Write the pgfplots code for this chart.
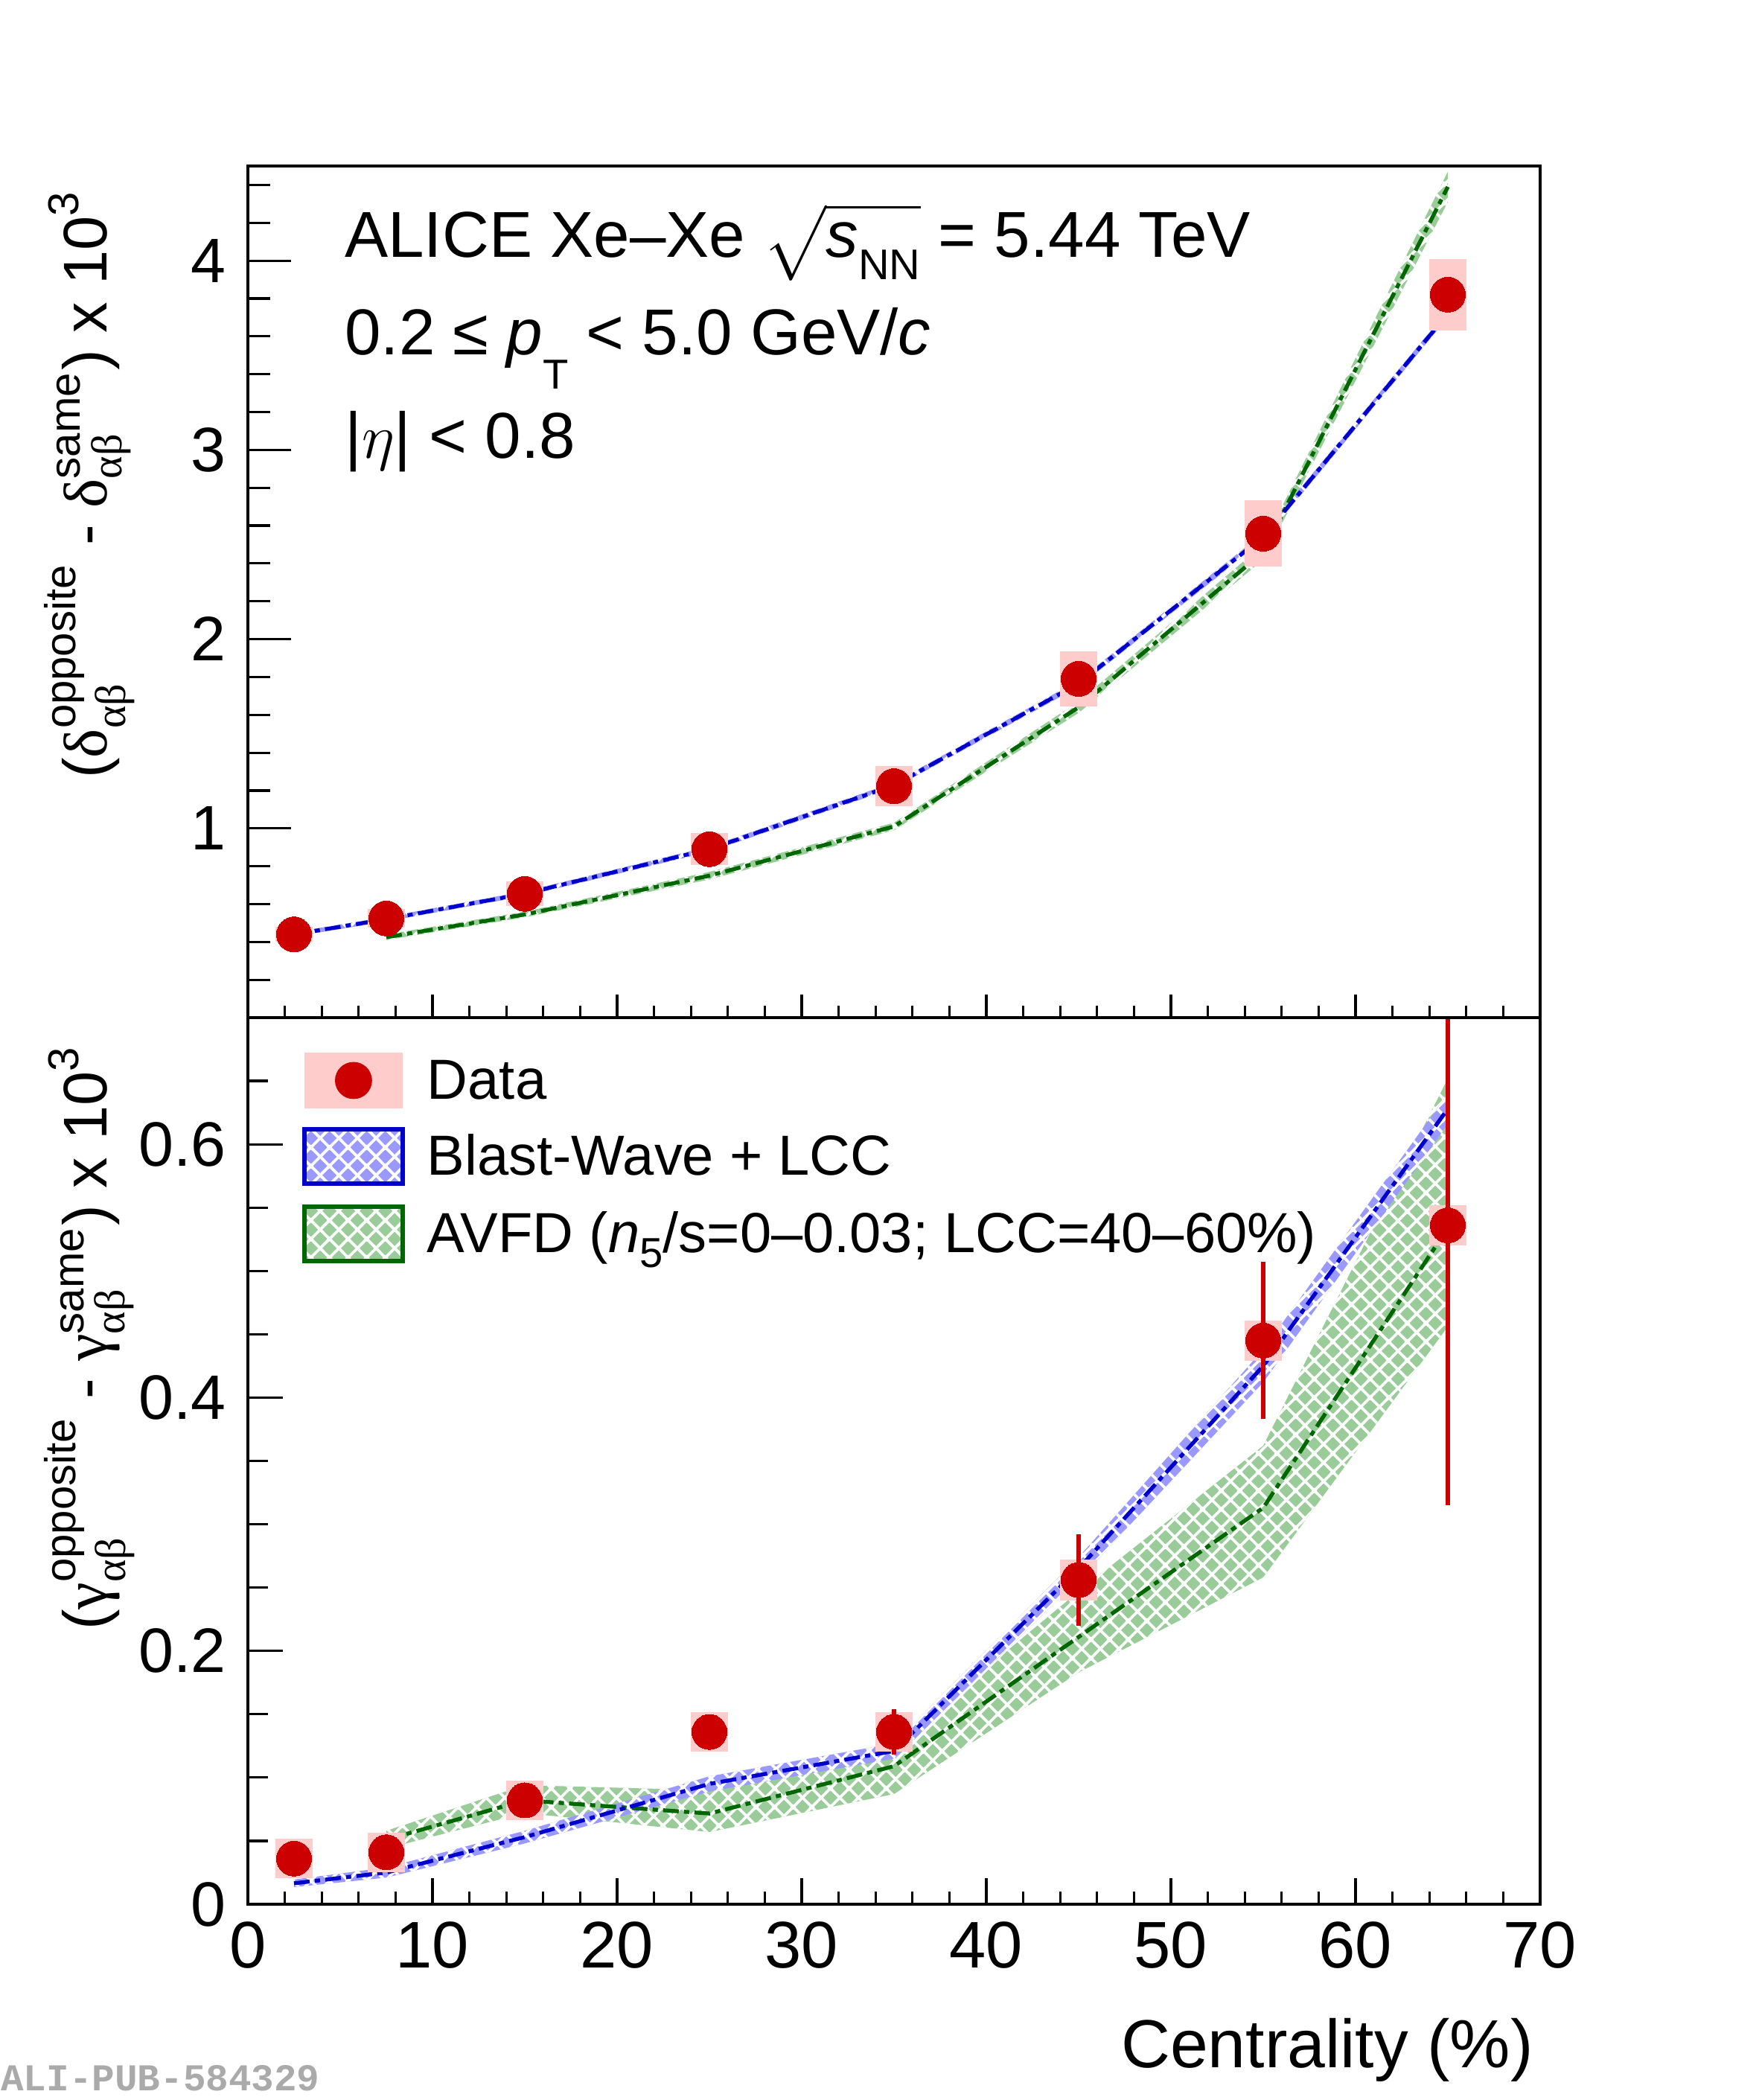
\documentclass[border=0pt]{standalone}
\usepackage{amsmath}
\usepackage{fontspec}
\setmainfont{Liberation Sans}
\newfontfamily\grk{Liberation Serif}
\newfontfamily\monob{Liberation Mono}
\usepackage{pgfplots}
\usepackage{pgfplotstable}
\pgfplotsset{compat=1.18}
\usepgfplotslibrary{fillbetween}
\usetikzlibrary{patterns.meta}

\definecolor{dataRed}{RGB}{204,0,0}
\definecolor{sysPink}{RGB}{255,204,204}
\definecolor{lineBlue}{RGB}{0,0,204}
\definecolor{bandBlue}{RGB}{153,153,255}
\definecolor{lineGreen}{RGB}{0,102,0}
\definecolor{bandGreen}{RGB}{153,204,153}
\definecolor{pubGray}{RGB}{170,170,170}

\tikzdeclarepattern{
  name=rootx,
  type=uncolored,
  bounding box={(0pt,0pt) and (3.5pt,3.5pt)},
  tile size={(3.5pt,3.5pt)},
  code={
    \tikzset{x=1pt,y=1pt}
    \draw[line width=0.55pt]
      (-1,-4.5)--(4.5,1) (-1,-1)--(4.5,4.5) (-1,2.5)--(4.5,8)
      (-1,1)--(4.5,-4.5) (-1,4.5)--(4.5,-1) (-1,8)--(4.5,2.5);
  }
}

% ---------------- data ----------------
\pgfplotstableread{
x    y      sys
2.5  0.44   0.04
7.5  0.524  0.05
15   0.654  0.065
25   0.89   0.085
35   1.223  0.105
45   1.79   0.145
55   2.557  0.175
65   3.82   0.19
}\dataTop

\pgfplotstableread{
x    y      stat   sys
2.5  0.036  0.004  0.0155
7.5  0.041  0.005  0.0155
15   0.082  0.006  0.0155
25   0.136  0.008  0.0155
35   0.136  0.018  0.0155
45   0.256  0.036  0.016
55   0.445  0.062  0.016
65   0.536  0.221  0.016
}\dataBot

\pgfplotstableread{
x    y      lo     hi
2.5  0.44   0.428  0.452
7.5  0.52   0.508  0.532
15   0.655  0.642  0.668
25   0.89   0.876  0.904
35   1.228  1.213  1.243
45   1.765  1.748  1.782
55   2.54   2.52   2.56
65   3.72   3.70   3.74
}\bwTop

\pgfplotstableread{
x    y      lo     hi
7.5  0.425  0.41   0.44
15   0.545  0.53   0.56
25   0.75   0.73   0.77
35   1.01   0.99   1.03
45   1.64   1.61   1.67
55   2.46   2.42   2.50
65   4.39   4.31   4.47
}\avTop

\pgfplotstableread{
x    y      lo     hi
2.5  0.0165 0.0135 0.0195
7.5  0.025  0.021  0.029
15   0.053  0.048  0.058
25   0.095  0.089  0.101
35   0.121  0.115  0.127
45   0.265  0.256  0.274
55   0.425  0.412  0.438
65   0.628  0.616  0.640
}\bwBot

\pgfplotstableread{
x    y      lo     hi
7.5  0.051  0.044  0.058
15   0.082  0.072  0.094
25   0.0716 0.057  0.090
35   0.109  0.087  0.126
45   0.211  0.183  0.247
55   0.313  0.258  0.362
65   0.534  0.456  0.652
}\avBot

\pgfplotsset{
  rootframe/.style={
    width=8.68cm, scale only axis,
    xmin=0, xmax=70,
    tick align=inside,
    axis line style={line width=0.45pt},
    every tick/.style={black, line width=0.45pt},
    /pgf/number format/assume math mode=true,
  },
  bandB/.style={draw=none, fill=bandBlue},
  bandG/.style={draw=none, fill=bandGreen},
  hatchW/.style={draw=none, pattern=rootx, pattern color=white},
  lineB/.style={lineBlue, line width=0.75pt, dash pattern=on 3pt off 1pt on 1pt off 1pt},
  lineG/.style={lineGreen, line width=0.75pt, dash pattern=on 3pt off 1pt on 1pt off 1pt},
  ylab/.style={every axis y label/.style={at={(axis description cs:-0.1094,#1)}, rotate=90,
      anchor=base east, inner sep=0pt, font=\fontsize{11.8}{14}\selectfont}},
  ytl/.style={yticklabel style={inner sep=0pt, xshift=-0.14cm, font=\fontsize{12}{14}\selectfont}},
}

\begin{document}
\begin{tikzpicture}

% ================= TOP PANEL =================
\begin{axis}[rootframe, name=top, at={(0,5.955cm)}, anchor=south west,
  height=5.72cm, ymin=0, ymax=4.5,
  xtick=\empty,
  ytick={1,2,3,4}, ytick pos=left,
  minor ytick={0.2,0.4,0.6,0.8,1.2,1.4,1.6,1.8,2.2,2.4,2.6,2.8,3.2,3.4,3.6,3.8,4.2,4.4},
  major tick length=0.29cm, minor tick length=0.15cm,
  ytl, ylab=0.9738,
  ylabel={$\text{(}\text{\grk δ}^{\text{opposite}}_{\text{\grk αβ}}\text{ - }\text{\grk δ}^{\text{same}}_{\text{\grk αβ}}\text{) x 10}^{\text{3}}$},
]
% AVFD
\addplot[name path=avtU, draw=none, forget plot] table[x=x,y=hi]{\avTop};
\addplot[name path=avtL, draw=none, forget plot] table[x=x,y=lo]{\avTop};
\addplot[bandG, forget plot] fill between[of=avtU and avtL];
\addplot[hatchW, forget plot] fill between[of=avtU and avtL];
\addplot[lineG, forget plot] table[x=x,y=y]{\avTop};
% Blast wave
\addplot[name path=bwtU, draw=none, forget plot] table[x=x,y=hi]{\bwTop};
\addplot[name path=bwtL, draw=none, forget plot] table[x=x,y=lo]{\bwTop};
\addplot[bandB, forget plot] fill between[of=bwtU and bwtL];
\addplot[hatchW, forget plot] fill between[of=bwtU and bwtL];
\addplot[lineB, forget plot] table[x=x,y=y]{\bwTop};
% data
\addplot[only marks, mark=none, forget plot,
  error bars/.cd, y dir=both, y explicit, error mark=none,
  error bar style={draw=sysPink, solid, line width=0.248cm, line cap=butt}]
  table[x=x,y=y,y error=sys]{\dataTop};
\addplot[dataRed, only marks, mark=*, mark size=0.1175cm, forget plot,
  mark options={fill=dataRed, draw=dataRed, line width=0pt}] table[x=x,y=y]{\dataTop};

\node[anchor=base west, inner sep=0pt, font=\fontsize{12.4}{14}\selectfont]
  at (rel axis cs:0.0743,0.8925) {ALICE Xe–Xe $\sqrt{\text{\itshape s\raisebox{-0.15cm}{\upshape\fontsize{8.2}{9}\selectfont NN}}\rule[-0.1cm]{0pt}{0.4cm}}$ = 5.44 TeV};
\node[anchor=base west, inner sep=0pt, font=\fontsize{12.4}{14}\selectfont]
  at (rel axis cs:0.0743,0.778) {0.2 ≤ \textit{p}\raisebox{-0.23cm}{\fontsize{8}{9}\selectfont T} < 5.0 GeV/\textit{c}};
\node[anchor=base west, inner sep=0pt, font=\fontsize{12.4}{14}\selectfont]
  at (rel axis cs:0.0743,0.6573) {|$\eta$| < 0.8};
\end{axis}

% top panel x ticks
\begin{axis}[rootframe, at={(0,5.955cm)}, anchor=south west,
  height=5.72cm, ymin=0, ymax=4.5,
  ytick=\empty,
  xtick={0,10,...,70}, minor x tick num=4, xtick pos=lower,
  xticklabels={},
  major tick length=0.155cm, minor tick length=0.08cm,
]
\addplot[draw=none, forget plot] coordinates {(0,0) (70,4.5)};
\end{axis}

% ================= BOTTOM PANEL =================
\begin{axis}[rootframe, name=bot, at={(0,0)}, anchor=south west,
  height=5.955cm, ymin=0, ymax=0.7,
  xtick=\empty,
  ytick={0,0.2,0.4,0.6}, ytick pos=left,
  minor ytick={0.05,0.1,0.15,0.25,0.3,0.35,0.45,0.5,0.55,0.65},
  major tick length=0.235cm, minor tick length=0.135cm,
  ytl, ylab=0.9706,
  ylabel={$\text{(}\text{\grk γ}^{\text{opposite}}_{\text{\grk αβ}}\text{ - }\text{\grk γ}^{\text{same}}_{\text{\grk αβ}}\text{) x 10}^{\text{3}}$},
  legend cell align=left,
  legend style={at={(axis description cs:0.042,0.9605)}, anchor=north west,
    draw=none, fill=none, inner sep=0pt, outer sep=0pt, row sep=0.125cm,
    font=\fontsize{10.8}{12}\selectfont,
    nodes={inner sep=0pt, text height=0.72em, text depth=0pt},
    /tikz/every odd column/.append style={column sep=0.15cm}},
]
% AVFD
\addplot[name path=avbU, draw=none, forget plot] table[x=x,y=hi]{\avBot};
\addplot[name path=avbL, draw=none, forget plot] table[x=x,y=lo]{\avBot};
\addplot[bandG, forget plot] fill between[of=avbU and avbL];
\addplot[hatchW, forget plot] fill between[of=avbU and avbL];
\addplot[lineG, forget plot] table[x=x,y=y]{\avBot};
% Blast wave
\addplot[name path=bwbU, draw=none, forget plot] table[x=x,y=hi]{\bwBot};
\addplot[name path=bwbL, draw=none, forget plot] table[x=x,y=lo]{\bwBot};
\addplot[bandB, forget plot] fill between[of=bwbU and bwbL];
\addplot[hatchW, forget plot] fill between[of=bwbU and bwbL];
\addplot[lineB, forget plot] table[x=x,y=y]{\bwBot};
% data
\addplot[only marks, mark=none, forget plot,
  error bars/.cd, y dir=both, y explicit, error mark=none,
  error bar style={draw=sysPink, solid, line width=0.248cm, line cap=butt}]
  table[x=x,y=y,y error=sys]{\dataBot};
\addplot[only marks, mark=none, forget plot,
  error bars/.cd, y dir=both, y explicit, error mark=none,
  error bar style={draw=dataRed, solid, line width=0.75pt}]
  table[x=x,y=y,y error=stat]{\dataBot};
\addplot[dataRed, only marks, mark=*, mark size=0.1175cm, forget plot,
  mark options={fill=dataRed, draw=dataRed, line width=0pt}] table[x=x,y=y]{\dataBot};

\addlegendimage{legend image code/.code={
  \fill[sysPink] (0.02cm,-0.18cm) rectangle (0.67cm,0.18cm);
  \fill[dataRed] (0.345cm,0cm) circle (0.1175cm);}}
\addlegendentry{Data}
\addlegendimage{legend image code/.code={
  \fill[bandBlue] (0.015cm,-0.1825cm) rectangle (0.675cm,0.1825cm);
  \fill[pattern=rootx, pattern color=white] (0.015cm,-0.1825cm) rectangle (0.675cm,0.1825cm);
  \draw[lineBlue, line width=0.03cm] (0.015cm,-0.1825cm) rectangle (0.675cm,0.1825cm);}}
\addlegendentry{Blast-Wave + LCC}
\addlegendimage{legend image code/.code={
  \fill[bandGreen] (0.015cm,-0.1825cm) rectangle (0.675cm,0.1825cm);
  \fill[pattern=rootx, pattern color=white] (0.015cm,-0.1825cm) rectangle (0.675cm,0.1825cm);
  \draw[lineGreen, line width=0.03cm] (0.015cm,-0.1825cm) rectangle (0.675cm,0.1825cm);}}
\addlegendentry{AVFD (\textit{n}\raisebox{-0.1cm}{\fontsize{8}{9}\selectfont 5}/s=0–0.03; LCC=40–60\%)}
\end{axis}

% bottom panel x ticks and labels
\begin{axis}[rootframe, at={(0,0)}, anchor=south west,
  height=5.955cm, ymin=0, ymax=0.7,
  ytick=\empty,
  xtick={0,10,...,70}, minor x tick num=4, xtick pos=lower,
  xticklabel style={inner sep=0pt, yshift=-0.11cm, font=\fontsize{12.6}{14}\selectfont},
  major tick length=0.175cm, minor tick length=0.085cm,
  xlabel={Centrality (\%)},
  every axis x label/.style={at={(axis description cs:0.9954,-0.1839)}, anchor=base east,
    inner sep=0pt, font=\fontsize{13}{15}\selectfont},
]
\addplot[draw=none, forget plot] coordinates {(0,0) (70,0.7)};
\end{axis}

\node[anchor=base west, inner sep=0pt, text=pubGray,
  font=\monob\bfseries\fontsize{7.25}{8}\selectfont]
  at ([xshift=-1.665cm, yshift=-1.25cm]bot.south west) {ALI-PUB-584329};

\pgfresetboundingbox
\useasboundingbox (-1.665cm,-1.315cm) rectangle (10.15cm,12.79cm);
\end{tikzpicture}
\end{document}
